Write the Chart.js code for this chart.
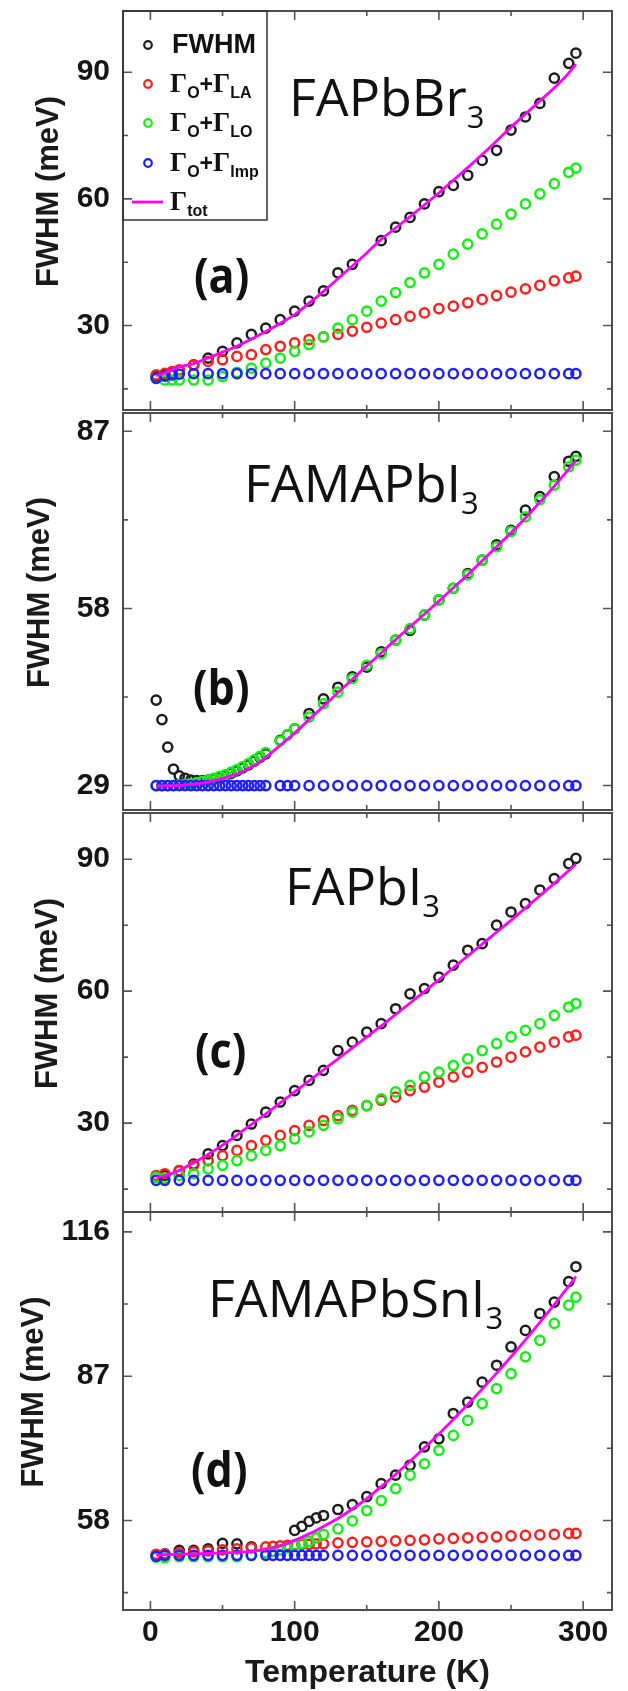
<!DOCTYPE html>
<html>
<head>
<meta charset="utf-8">
<script src="https://cdn.jsdelivr.net/npm/chart.js@4.4.1/dist/chart.umd.min.js"></script>
<style>
  html, body { margin: 0; padding: 0; background: #fff; }
  #wrap { position: relative; width: 628px; height: 1691px; overflow: hidden; }
  #wrap canvas { position: absolute; left: 0; }
</style>
</head>
<body>
<div id="wrap">
  <canvas id="panelA" width="628" height="420" style="top:0px"></canvas>
  <canvas id="panelB" width="628" height="420" style="top:400px"></canvas>
  <canvas id="panelC" width="628" height="420" style="top:800px"></canvas>
  <canvas id="panelD" width="628" height="491" style="top:1200px"></canvas>
</div>
<script>
// ---- labels ----
const seriesLabels = ['FWHM', 'Γ_{O}+Γ_{LA}', 'Γ_{O}+Γ_{LO}', 'Γ_{O}+Γ_{Imp}', 'Γ_{tot}'];
const panelNames = ['FAPbBr_{3}', 'FAMAPbI_{3}', 'FAPbI_{3}', 'FAMAPbSnI_{3}'];
const panelTags = ['(a)', '(b)', '(c)', '(d)'];
const xTitle = 'Temperature (K)';
const yTitle = 'FWHM (meV)';

// ---- (a) FAPbBr3 ----
const tempA = [4, 10, 15, 20, 30, 40, 50, 60, 70, 80, 90, 100, 110, 120, 130, 140, 150, 160, 170, 180, 190, 200, 210, 220, 230, 240, 250, 260, 270, 280, 290, 295];
const fwhmA = [17.9, 18.3, 18.8, 19.3, 20.7, 22.3, 23.9, 25.9, 27.9, 29.4, 31.4, 33.4, 35.8, 38.2, 42.5, 44.5, null, 50.1, 53.3, 55.6, 58.8, 61.7, 63.2, 65.6, 69.1, 71.5, 76.3, 79.4, 82.6, 88.6, 92.1, 94.5];
const laA = [18.3, 18.7, 19.1, 19.5, 20.7, 21.5, 21.9, 22.7, 23.1, 24.3, 25.1, 25.9, 26.7, 27.3, 27.9, 28.7, 29.6, 30.6, 31.4, 32.2, 33.0, 34.0, 34.6, 35.4, 36.2, 37.1, 37.9, 38.7, 39.5, 40.6, 41.3, 41.7];
const loA = [17.5, 17.1, 17.1, 17.1, 17.1, 17.1, 17.9, 18.9, 19.9, 21.1, 22.3, 23.9, 25.5, 27.3, 29.4, 31.4, 33.4, 35.8, 37.8, 40.2, 42.5, 44.5, 46.9, 49.3, 51.7, 54.0, 56.4, 58.8, 61.2, 63.6, 66.3, 67.3];
const impA = [17.5, 18.0, 18.3, 18.5, 18.6, 18.6, 18.6, 18.6, 18.6, 18.6, 18.6, 18.6, 18.6, 18.6, 18.6, 18.6, 18.6, 18.6, 18.6, 18.6, 18.6, 18.6, 18.6, 18.6, 18.6, 18.6, 18.6, 18.6, 18.6, 18.6, 18.6, 18.6];
const totA = [18.1, 18.8, 19.5, 20.2, 21.0, 22.3, 23.7, 25.1, 26.8, 28.6, 30.5, 32.6, 35.3, 38.1, 41.1, 44.1, 47.2, 50.4, 53.1, 55.8, 58.6, 61.4, 64.4, 67.4, 70.5, 73.7, 77.0, 80.1, 83.2, 86.3, 89.8, 91.9];

// ---- (b) FAMAPbI3 ----
const tempB = [4, 8, 12, 16, 20, 24, 28, 32, 36, 40, 44, 48, 52, 56, 60, 64, 68, 72, 76, 80, 90, 95, 100, 110, 120, 130, 140, 150, 160, 170, 180, 190, 200, 210, 220, 230, 240, 250, 260, 270, 280, 290, 295];
const fwhmB = [43.0, 39.8, 35.3, 31.7, 30.6, 30.2, 29.9, 29.8, 29.8, 29.9, 30.1, 30.3, 30.6, 31.0, 31.4, 31.9, 32.4, 33.0, 33.6, 34.2, 36.4, 37.3, 38.3, 40.8, 43.2, 45.1, 46.8, 48.4, 50.9, 52.8, 54.4, 56.9, 59.4, 61.3, 63.7, 65.9, 68.4, 70.8, 74.1, 76.3, 79.6, 82.1, 82.9];
const laB = [];
const loB = [29.0, 29.0, 29.0, 29.0, 29.1, 29.2, 29.3, 29.5, 29.7, 29.9, 30.2, 30.5, 30.8, 31.2, 31.6, 32.1, 32.6, 33.2, 33.8, 34.4, 36.3, 37.3, 38.3, 40.2, 42.4, 44.3, 46.5, 48.7, 50.6, 52.8, 54.7, 56.9, 59.4, 61.3, 63.5, 65.9, 68.1, 70.6, 73.0, 75.8, 78.2, 81.2, 82.3];
const impB = [29.0, 29.0, 29.0, 29.0, 29.0, 29.0, 29.0, 29.0, 29.0, 29.0, 29.0, 29.0, 29.0, 29.0, 29.0, 29.0, 29.0, 29.0, 29.0, 29.0, 29.0, 29.0, 29.0, 29.0, 29.0, 29.0, 29.0, 29.0, 29.0, 29.0, 29.0, 29.0, 29.0, 29.0, 29.0, 29.0, 29.0, 29.0, 29.0, 29.0, 29.0, 29.0, 29.0];
const totB = [28.9, 28.9, 29.0, 29.0, 29.0, 29.1, 29.2, 29.3, 29.4, 29.6, 29.8, 30.0, 30.3, 30.6, 30.9, 31.3, 31.8, 32.3, 32.9, 33.6, 35.6, 36.6, 37.6, 39.8, 42.0, 44.2, 46.4, 48.6, 50.7, 52.9, 55.0, 57.1, 59.2, 61.4, 63.5, 65.8, 68.1, 70.4, 72.8, 75.4, 78.0, 80.8, 82.2];

// ---- (c) FAPbI3 ----
const tempC = [4, 10, 20, 30, 40, 50, 60, 70, 80, 90, 100, 110, 120, 130, 140, 150, 160, 170, 180, 190, 200, 210, 220, 230, 240, 250, 260, 270, 280, 290, 295];
const fwhmC = [17.7, 18.1, 19.2, 20.7, 23.0, 24.9, 27.2, 29.8, 32.5, 34.8, 37.4, 39.7, 42.0, 46.5, 48.4, 50.7, 52.6, 56.0, 59.4, 60.6, 63.2, 65.9, 69.3, 70.8, 75.0, 78.0, 79.9, 83.0, 85.6, 89.0, 90.2];
const laC = [18.1, 18.5, 19.2, 20.4, 21.5, 22.6, 23.8, 24.9, 26.1, 27.2, 28.3, 29.5, 30.6, 31.7, 32.9, 34.0, 35.2, 35.9, 37.4, 38.2, 39.3, 40.5, 41.6, 42.7, 43.9, 45.0, 46.2, 47.3, 48.4, 49.6, 50.0];
const loC = [17.7, 17.5, 18.1, 18.5, 19.6, 20.4, 21.5, 22.6, 23.8, 24.9, 26.4, 28.0, 29.5, 31.0, 32.5, 34.0, 35.5, 37.1, 38.6, 40.5, 41.6, 43.1, 44.6, 46.5, 48.1, 49.6, 51.1, 52.6, 54.5, 56.4, 57.2];
const impC = [17.0, 17.0, 17.0, 17.0, 17.0, 17.0, 17.0, 17.0, 17.0, 17.0, 17.0, 17.0, 17.0, 17.0, 17.0, 17.0, 17.0, 17.0, 17.0, 17.0, 17.0, 17.0, 17.0, 17.0, 17.0, 17.0, 17.0, 17.0, 17.0, 17.0, 17.0];
const totC = [17.7, 18.0, 19.3, 21.0, 22.9, 25.0, 27.3, 29.7, 32.1, 34.6, 37.1, 39.6, 42.1, 44.6, 47.1, 49.6, 52.1, 54.7, 57.3, 59.9, 62.6, 65.3, 68.0, 70.7, 73.4, 76.1, 78.9, 81.7, 84.5, 87.4, 88.9];

// ---- (d) FAMAPbSnI3 ----
const tempD = [4, 10, 20, 30, 40, 50, 60, 70, 80, 85, 90, 95, 100, 105, 110, 115, 120, 130, 140, 150, 160, 170, 180, 190, 200, 210, 220, 230, 240, 250, 260, 270, 280, 290, 295];
const fwhmD = [51.0, 51.3, 52.0, 52.0, 52.3, 53.4, 53.3, 52.7, null, null, null, null, 56.0, 56.8, 57.8, 58.5, 59.0, 60.2, 61.2, 62.8, 65.4, 67.1, 69.1, 72.8, 74.4, 79.5, 81.8, 85.8, 89.2, 92.9, 96.2, 99.6, 101.9, 106.0, 109.0];
const laD = [51.2, 51.3, 51.5, 51.7, 51.9, 52.1, 52.3, 52.5, 52.7, 52.8, 52.9, 53.0, 53.1, 53.2, 53.2, 53.3, 53.3, 53.5, 53.6, 53.7, 53.8, 53.9, 54.0, 54.1, 54.3, 54.4, 54.5, 54.6, 54.7, 54.9, 55.0, 55.1, 55.2, 55.4, 55.4];
const loD = [50.6, 50.5, 50.7, 50.7, 50.7, 50.7, 50.7, 51.0, 51.5, 51.8, 52.1, 52.5, 53.0, 53.4, 53.8, 54.5, 55.2, 56.3, 57.9, 60.0, 62.0, 64.4, 67.1, 69.4, 72.1, 75.1, 78.1, 81.5, 84.5, 87.5, 90.9, 94.2, 97.6, 101.3, 102.9];
const impD = [50.8, 51.0, 51.0, 51.0, 51.0, 51.0, 51.0, 51.0, 51.0, 51.0, 51.0, 51.0, 51.0, 51.0, 51.0, 51.0, 51.0, 51.0, 51.0, 51.0, 51.0, 51.0, 51.0, 51.0, 51.0, 51.0, 51.0, 51.0, 51.0, 51.0, 51.0, 51.0, 51.0, 51.0, 51.0];
const totD = [51.0, 51.1, 51.2, 51.3, 51.4, 51.5, 51.6, 51.8, 52.2, 52.5, 52.9, 53.4, 54.0, 54.6, 55.3, 56.0, 56.8, 58.4, 60.3, 62.4, 64.8, 67.3, 69.9, 72.6, 75.4, 78.3, 81.3, 84.4, 87.6, 90.9, 94.3, 97.8, 101.4, 105.1, 107.0];

const seriesColors = ['#1e1e1e', '#ff1f1f', '#14f014', '#1f1fff', '#ff00ff'];

const SANS = '"Liberation Sans", Arial, sans-serif';
const SERIF = '"Liberation Serif", "Times New Roman", serif';
const NAME_FONT = '"Open Sans", sans-serif';

// split "FAPbBr_{3}" into normal / subscript pieces
function parseRich(str) {
  const parts = [];
  const re = /_\{([^}]*)\}/g;
  let last = 0, m;
  while ((m = re.exec(str))) {
    if (m.index > last) parts.push({ t: str.slice(last, m.index), sub: false });
    parts.push({ t: m[1], sub: true });
    last = re.lastIndex;
  }
  if (last < str.length) parts.push({ t: str.slice(last), sub: false });
  return parts;
}

function drawRich(ctx, str, x, y, f) {
  ctx.textAlign = 'left';
  ctx.textBaseline = 'alphabetic';
  parseRich(str).forEach(p => {
    if (p.sub) {
      ctx.font = f.sub;
      ctx.fillText(p.t, x, y + f.subDy);
      x += ctx.measureText(p.t).width;
    } else if (typeof f.main === 'string') {
      ctx.font = f.main;
      ctx.fillText(p.t, x, y);
      x += ctx.measureText(p.t).width;
    } else {
      for (const ch of p.t) {
        ctx.font = f.main(ch);
        ctx.fillText(ch, x, y);
        x += ctx.measureText(ch).width;
      }
    }
  });
}

function isMajor(v, step) {
  const q = v / step;
  return Math.abs(q - Math.round(q)) < 1e-6;
}

function drawLegend(ctx, a) {
  const rows = [34, 73, 112, 152, 191];
  ctx.strokeStyle = '#333';
  ctx.lineWidth = 1.5;
  ctx.strokeRect(a.left, a.top, 144, 209);
  seriesLabels.forEach((lab, i) => {
    const cy = a.top + rows[i];
    ctx.beginPath();
    if (i < 4) {
      ctx.arc(a.left + 25, cy, 3.8, 0, Math.PI * 2);
      ctx.lineWidth = 2.2;
    } else {
      ctx.moveTo(a.left + 9, cy);
      ctx.lineTo(a.left + 40, cy);
      ctx.lineWidth = 2.8;
    }
    ctx.strokeStyle = seriesColors[i];
    ctx.stroke();
    ctx.fillStyle = '#111';
    if (i === 0) {
      drawRich(ctx, lab, a.left + 49, cy + 8, { main: 'bold 27px ' + SANS, sub: 'bold 15px ' + SANS, subDy: 6 });
    } else {
      drawRich(ctx, lab, a.left + 47, cy + 8, {
        main: ch => ch === 'Γ' ? 'bold 27px ' + SERIF : 'bold 23px ' + SANS,
        sub: 'bold 16px ' + SANS, subDy: 6
      });
    }
  });
}

const decoPlugin = {
  id: 'deco',
  afterDraw(chart, args, o) {
    const { ctx, chartArea: a, scales: { x, y } } = chart;
    ctx.save();
    // inward tick marks on all four sides
    ctx.strokeStyle = '#555';
    ctx.lineWidth = 1.6;
    ctx.beginPath();
    x.ticks.forEach(t => {
      const px = x.getPixelForValue(t.value);
      const len = isMajor(t.value, 100) ? 9 : 5;
      ctx.moveTo(px, a.bottom); ctx.lineTo(px, a.bottom - len);
      ctx.moveTo(px, a.top); ctx.lineTo(px, a.top + len);
    });
    y.ticks.forEach(t => {
      const py = y.getPixelForValue(t.value);
      const len = isMajor(t.value, o.major) ? 9 : 5;
      ctx.moveTo(a.left, py); ctx.lineTo(a.left + len, py);
      ctx.moveTo(a.right, py); ctx.lineTo(a.right - len, py);
    });
    ctx.stroke();
    // frame
    ctx.strokeStyle = '#4d4d4d';
    ctx.lineWidth = 2;
    ctx.strokeRect(a.left, a.top, a.right - a.left, a.bottom - a.top);

    // y axis title
    ctx.fillStyle = '#1a1a1a';
    ctx.font = 'bold 31px ' + SANS;
    ctx.textAlign = 'center';
    ctx.textBaseline = 'middle';
    ctx.save();
    ctx.translate(o.yTitleX, (a.top + a.bottom) / 2 - 19);
    ctx.rotate(-Math.PI / 2);
    ctx.fillText(yTitle, 0, 0);
    ctx.restore();

    // x axis title (bottom panel only)
    if (o.xTitle) {
      ctx.font = 'bold 32px ' + SANS;
      ctx.textAlign = 'center';
      ctx.textBaseline = 'middle';
      ctx.fillText(xTitle, (a.left + a.right) / 2, a.bottom + 63);
    }

    // sample name and panel tag
    ctx.fillStyle = '#111';
    drawRich(ctx, o.name, o.nameX, o.nameY - o.top, { main: '52px ' + NAME_FONT, sub: '31px ' + NAME_FONT, subDy: 12 });
    ctx.save();
    ctx.translate(o.tagX, o.tagY - o.top);
    ctx.scale(0.88, 1);
    ctx.font = 'bold 49px ' + NAME_FONT;
    ctx.textAlign = 'left';
    ctx.textBaseline = 'alphabetic';
    ctx.fillText(o.tag, 0, 0);
    ctx.restore();

    if (o.legend) drawLegend(ctx, a);
    ctx.restore();
  }
};

function pts(temps, vals) {
  return temps.map((t, i) => ({ x: t, y: vals[i] === undefined ? null : vals[i] }));
}

function markers(label, data, color, order) {
  return {
    label, data, order,
    showLine: false,
    pointStyle: 'circle',
    pointRadius: 4.6,
    pointHoverRadius: 4.6,
    pointBorderWidth: 2.5,
    pointBorderColor: color,
    pointBackgroundColor: 'rgba(0,0,0,0)',
    borderColor: color,
    backgroundColor: 'rgba(0,0,0,0)'
  };
}

function makePanel(id, p) {
  const ds = [
    markers(seriesLabels[0], pts(p.temps, p.fwhm), seriesColors[0], 4),
    markers(seriesLabels[3], pts(p.temps, p.imp), seriesColors[3], 1),
    markers(seriesLabels[2], pts(p.temps, p.lo), seriesColors[2], 2),
    {
      label: seriesLabels[4], data: pts(p.temps, p.tot), order: 0,
      showLine: true, borderColor: seriesColors[4], borderWidth: 2.8,
      pointRadius: 0, cubicInterpolationMode: 'monotone', fill: false
    }
  ];
  if (p.la.length) ds.push(markers(seriesLabels[1], pts(p.temps, p.la), seriesColors[1], 3));

  new Chart(document.getElementById(id), {
    type: 'scatter',
    data: { datasets: ds },
    plugins: [decoPlugin],
    options: {
      responsive: false,
      animation: false,
      devicePixelRatio: 1,
      layout: { padding: { left: 0, right: 16, top: p.padTop, bottom: p.padBottom } },
      plugins: {
        legend: { display: false },
        tooltip: { enabled: false },
        deco: {
          major: p.major, yTitleX: p.yTitleX, xTitle: p.last, legend: p.legend,
          name: p.name, nameX: p.nameX, nameY: p.nameY,
          tag: p.tag, tagX: p.tagX, tagY: p.tagY, top: p.top
        }
      },
      scales: {
        x: {
          type: 'linear', min: -19, max: 320,
          grid: { display: false, drawTicks: false, tickLength: 0 },
          border: { display: false },
          ticks: {
            display: p.last, stepSize: 50, includeBounds: false, autoSkip: false, maxRotation: 0,
            padding: 5, color: '#151515', font: { family: SANS, size: 30, weight: 'bold' },
            callback: v => isMajor(v, 100) ? String(v) : ''
          },
          afterFit: s => {
            s.height = p.last ? 81 : 0;
            s.paddingLeft = 0; s.paddingRight = 0; s.paddingTop = 0; s.paddingBottom = 0;
          }
        },
        y: {
          type: 'linear', min: p.yMin, max: p.yMax,
          grid: { display: false, drawTicks: false, tickLength: 0 },
          border: { display: false },
          ticks: {
            stepSize: p.step, includeBounds: false, autoSkip: false,
            padding: 13, color: '#151515', font: { family: SANS, size: 30, weight: 'bold' },
            callback: v => isMajor(v, p.major) ? String(v) : ''
          },
          afterFit: s => {
            s.width = 123;
            s.paddingTop = 0; s.paddingBottom = 0; s.paddingLeft = 0; s.paddingRight = 0;
          }
        }
      }
    }
  });
}

makePanel('panelA', {
  temps: tempA, fwhm: fwhmA, la: laA, lo: loA, imp: impA, tot: totA,
  yMin: 10, yMax: 104.5, step: 15, major: 30,
  top: 0, padTop: 11, padBottom: 10, last: false, legend: true, yTitleX: 49,
  name: panelNames[0], nameX: 289, nameY: 116, tag: panelTags[0], tagX: 194, tagY: 293
});
makePanel('panelB', {
  temps: tempB, fwhm: fwhmB, la: laB, lo: loB, imp: impB, tot: totB,
  yMin: 25, yMax: 90, step: 14.5, major: 29,
  top: 400, padTop: 13, padBottom: 10, last: false, legend: false, yTitleX: 40,
  name: panelNames[1], nameX: 244, nameY: 502, tag: panelTags[1], tagX: 193, tagY: 705
});
makePanel('panelC', {
  temps: tempC, fwhm: fwhmC, la: laC, lo: loC, imp: impC, tot: totC,
  yMin: 9.8, yMax: 100.5, step: 15, major: 30,
  top: 800, padTop: 13, padBottom: 8, last: false, legend: false, yTitleX: 48,
  name: panelNames[2], nameX: 285, nameY: 905, tag: panelTags[2], tagX: 195, tagY: 1068
});
makePanel('panelD', {
  temps: tempD, fwhm: fwhmD, la: laD, lo: loD, imp: impD, tot: totD,
  yMin: 40, yMax: 120, step: 14.5, major: 29,
  top: 1200, padTop: 12, padBottom: 0, last: true, legend: false, yTitleX: 34,
  name: panelNames[3], nameX: 208, nameY: 1317, tag: panelTags[3], tagX: 191, tagY: 1487
});
</script>
</body>
</html>
